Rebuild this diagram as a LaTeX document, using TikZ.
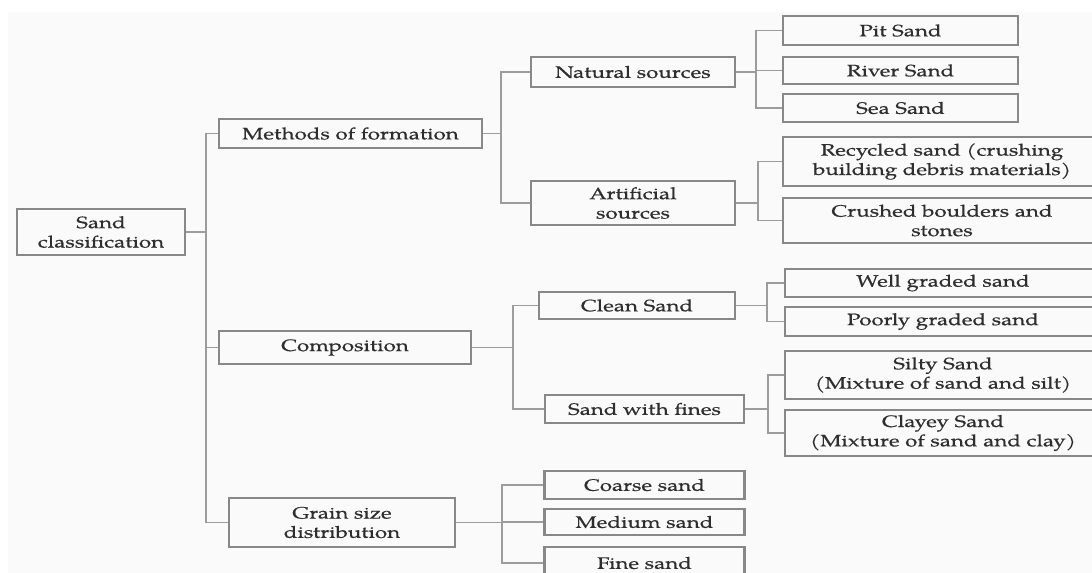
\documentclass[tikz,border=0pt]{standalone}
\usepackage{fontspec}
\setmainfont[FakeStretch=1.35,FakeBold=0.5]{TeX Gyre Pagella}
\definecolor{boxgray}{HTML}{888888}
\definecolor{linegray}{HTML}{9C9C9C}
\definecolor{textgray}{HTML}{2E2E2E}
\definecolor{bgfill}{HTML}{FAFAFA}
\begin{document}
\begin{tikzpicture}[x=0.75pt,y=-0.75pt,
		box/.style={draw=boxgray,line width=1.8pt,text=textgray,align=center,inner sep=0pt,font=\fontsize{12.4}{14.5}\selectfont},
		link/.style={draw=linegray,line width=1.2pt}]
				\useasboundingbox (0,0) rectangle (1092,573);
				\fill[bgfill] (8,12) rectangle (1092,573);
				\node[box,minimum width=126pt,minimum height=34.5pt] (root) at (101,232) {Sand\\classification};
				\node[box,minimum width=197.25pt,minimum height=21.75pt] (formation) at (350.5,133.5) {Methods of formation};
				\node[box,minimum width=189pt,minimum height=24.75pt] (composition) at (345,347.5) {Composition};
				\node[box,minimum width=169.5pt,minimum height=36.75pt] (grain) at (342,522.5) {Grain size\\distribution};
				\node[box,minimum width=153pt,minimum height=22.5pt] (natural) at (633,72) {Natural sources};
				\node[box,minimum width=153pt,minimum height=33pt] (artificial) at (633,203) {Artificial\\sources};
				\node[box,minimum width=147pt,minimum height=20.25pt] (clean) at (637,305.5) {Clean Sand};
				\node[box,minimum width=149.25pt,minimum height=21pt] (fines) at (644.5,409) {Sand with fines};
				\node[box,minimum width=150pt,minimum height=21pt] (coarse) at (644.5,485) {Coarse sand};
				\node[box,minimum width=150pt,minimum height=19.5pt] (medium) at (644.5,522) {Medium sand};
				\node[box,minimum width=150pt,minimum height=24pt] (fine) at (644.5,563) {Fine sand};
				\node[box,minimum width=176.25pt,minimum height=21.75pt] (pit) at (900.5,30.5) {Pit Sand};
				\node[box,minimum width=176.25pt,minimum height=20.25pt] (river) at (900.5,70.5) {River Sand};
				\node[box,minimum width=176.25pt,minimum height=21pt] (sea) at (900.5,108) {Sea Sand};
				\node[box,minimum width=238.5pt,minimum height=36.75pt] (recycled) at (942,161.5) {Recycled sand (crushing\\building debris materials)};
				\node[box,minimum width=238.5pt,minimum height=33.75pt] (crushed) at (942,220.5) {Crushed boulders and\\stones};
				\node[box,minimum width=237pt,minimum height=21pt] (well) at (943,283) {Well graded sand};
				\node[box,minimum width=237pt,minimum height=21.75pt] (poorly) at (943,321.5) {Poorly graded sand};
				\node[box,minimum width=237pt,minimum height=36pt] (silty) at (943,375) {Silty Sand\\(Mixture of sand and silt)};
				\node[box,minimum width=237pt,minimum height=34.5pt] (clayey) at (943,433) {Clayey Sand\\(Mixture of sand and clay)};
				\draw[link] (root.east) -- ++(20,0) |- (formation.west);
				\draw[link] (root.east) -- ++(20,0) |- (composition.west);
				\draw[link] (root.east) -- ++(20,0) |- (grain.west);
				\draw[link] (formation.east) -- ++(18,0) |- (natural.west);
				\draw[link] (formation.east) -- ++(18,0) |- (artificial.west);
				\draw[link] (natural.east) -- ++(20,0) |- (pit.west);
				\draw[link] (natural.east) -- ++(20,0) |- (river.west);
				\draw[link] (natural.east) -- ++(20,0) |- (sea.west);
				\draw[link] (artificial.east) -- ++(22,0) |- (recycled.west);
				\draw[link] (artificial.east) -- ++(22,0) |- (crushed.west);
				\draw[link] (composition.east) -- ++(41,0) |- (clean.west);
				\draw[link] (composition.east) -- ++(41,0) |- (fines.west);
				\draw[link] (clean.east) -- ++(31,0) |- (well.west);
				\draw[link] (clean.east) -- ++(31,0) |- (poorly.west);
				\draw[link] (fines.east) -- ++(23,0) |- (silty.west);
				\draw[link] (fines.east) -- ++(23,0) |- (clayey.west);
				\draw[link] (grain.east) -- ++(46,0) |- (coarse.west);
				\draw[link] (grain.east) -- ++(46,0) |- (medium.west);
				\draw[link] (grain.east) -- ++(46,0) |- (fine.west);
			\end{tikzpicture}
\end{document}
